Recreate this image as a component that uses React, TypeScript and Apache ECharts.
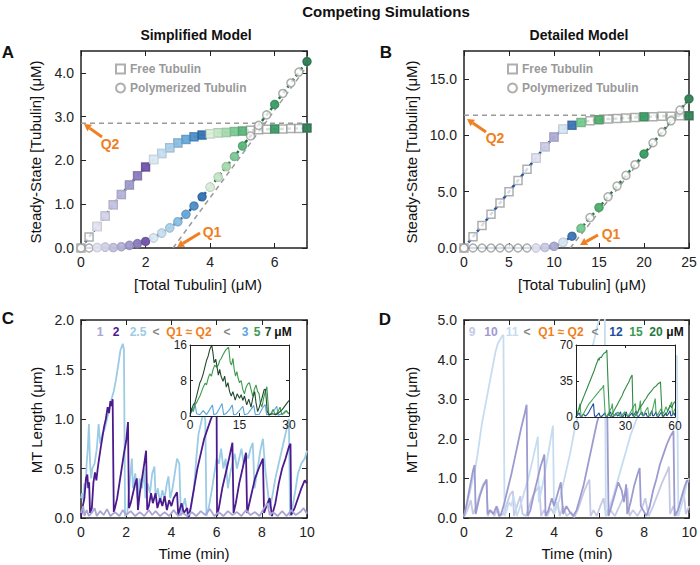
import React, { useEffect, useRef } from "react";
import * as echarts from "echarts";

// ---------------- DATA ----------------
// Panel A (simplified model) steady state
const totalA = [0, 0.25, 0.5, 0.75, 1, 1.25, 1.5, 1.75, 2, 2.25, 2.5, 2.75, 3, 3.25, 3.5, 3.75, 4, 4.25, 4.5, 4.75, 5, 5.25, 5.5, 5.75, 6, 6.25, 6.5, 6.75, 7];
const freeA = [0, 0.25, 0.49, 0.73, 0.99, 1.22, 1.44, 1.65, 1.85, 2.02, 2.16, 2.29, 2.4, 2.48, 2.54, 2.58, 2.61, 2.63, 2.64, 2.66, 2.67, 2.69, 2.7, 2.71, 2.72, 2.72, 2.73, 2.73, 2.74];
const polyA = [0, 0, 0.01, 0.02, 0.01, 0.03, 0.06, 0.1, 0.15, 0.23, 0.34, 0.46, 0.6, 0.77, 0.96, 1.17, 1.39, 1.62, 1.86, 2.09, 2.33, 2.56, 2.8, 3.04, 3.28, 3.53, 3.77, 4.02, 4.26];
const simXA = [0.5, 0.75, 1, 1.25, 1.5, 1.75, 2, 2.25, 2.5, 2.75, 3, 3.25, 3.5, 3.75, 4, 4.25, 4.5, 4.75, 5, 6, 7];
const simColorA = ["#dedff0", "#cccbe6", "#b9b7dc", "#a8a5d2", "#9088c4", "#7864b2", "#58359c", "#d5e6f5", "#badaf0", "#9ccae8", "#74b3de", "#4b98d2", "#2a7abf", "#0e5aa4", "#d5edd5", "#b9e2bc", "#96d39f", "#68be84", "#3fa864", "#178a4a", "#0a6736"];
const qA = 2.85;
const splitA = 4;

// Panel B (detailed model) steady state
const totalB = [0, 1, 2, 3, 4, 5, 6, 7, 8, 9, 10, 11, 12, 13, 14, 15, 16, 17, 18, 19, 20, 21, 22, 23, 24, 25];
const freeB = [0, 1, 2, 3, 4, 5, 6, 7, 8, 9, 9.85, 10.55, 10.9, 11.15, 11.3, 11.4, 11.45, 11.5, 11.55, 11.6, 11.65, 11.65, 11.7, 11.7, 11.75, 11.75];
const polyB = [0, 0, 0, 0, 0, 0, 0, 0, 0, 0.05, 0.15, 0.5, 1.05, 1.75, 2.7, 3.6, 4.55, 5.5, 6.45, 7.4, 8.35, 9.35, 10.3, 11.3, 12.25, 13.25];
const simXB = [8, 9, 10, 11, 12, 13, 15, 20, 25];
const simColorB = ["#dcdcf0", "#c4c3e3", "#a09cd0", "#cfe2f3", "#1a5da8", "#5cc07c", "#2f9e54", "#188a48", "#0b6a37"];
const qB = 11.8;
const splitB = 12;

// Panel C (simplified model) MT length vs time (min)
const c25: number[][] = [[0,0.2],[0.05,0.25],[0.1,0.18],[0.15,0.35],[0.2,0.3],[0.25,0.55],[0.3,0.7],[0.35,0.95],[0.4,0.55],[0.45,0.4],[0.5,0.5],[0.6,0.55],[0.7,0.7],[0.78,0.95],[0.85,0.75],[0.95,0.85],[1.05,0.9],[1.15,1.0],[1.25,1.1],[1.35,1.2],[1.45,1.28],[1.55,1.4],[1.65,1.55],[1.75,1.7],[1.85,1.76],[1.9,1.7],[1.95,0.02],[2.05,0.05],[2.15,0.35],[2.25,0.6],[2.3,0.3],[2.4,0.45],[2.5,0.2],[2.6,0.4],[2.7,0.3],[2.8,0.5],[2.85,0.2],[2.95,0.35],[3.05,0.25],[3.15,0.45],[3.25,0.52],[3.3,0.2],[3.4,0.3],[3.5,0.15],[3.6,0.28],[3.7,0.2],[3.8,0.35],[3.87,0.42],[3.95,0.2],[4.05,0.3],[4.15,0.45],[4.25,0.6],[4.35,0.55],[4.42,0.02],[4.5,0.1],[4.6,0.2],[4.7,0.05],[4.78,0.0],[4.9,0.15],[5.0,0.3],[5.1,0.6],[5.2,0.85],[5.3,0.95],[5.4,1.05],[5.5,1.0],[5.55,0.02],[5.65,0.1],[5.8,0.3],[5.9,0.45],[6.0,0.6],[6.1,0.55],[6.2,0.7],[6.3,0.5],[6.4,0.6],[6.5,0.3],[6.6,0.45],[6.7,0.55],[6.8,0.65],[6.9,0.5],[7.0,0.6],[7.1,0.7],[7.2,0.55],[7.3,0.65],[7.4,0.6],[7.5,0.7],[7.6,0.76],[7.68,0.3],[7.75,0.4],[7.85,0.55],[7.95,0.7],[8.05,0.8],[8.15,0.5],[8.25,0.3],[8.35,0.1],[8.45,0.2],[8.6,0.4],[8.75,0.55],[8.9,0.7],[9.0,0.8],[9.1,0.9],[9.2,1.0],[9.25,0.02],[9.35,0.1],[9.5,0.3],[9.6,0.45],[9.75,0.55],[9.9,0.6],[10,0.68]];
const c2: number[][] = [[0,0.02],[0.08,0.12],[0.15,0.2],[0.22,0.4],[0.28,0.44],[0.32,0.3],[0.36,0.36],[0.4,0.05],[0.48,0.1],[0.55,0.36],[0.62,0.46],[0.68,0.38],[0.74,0.5],[0.8,0.6],[0.88,0.72],[0.95,0.82],[1.02,0.92],[1.1,1.0],[1.18,1.12],[1.24,1.06],[1.3,1.18],[1.36,1.13],[1.4,1.2],[1.45,0.06],[1.5,0.1],[1.6,0.2],[1.7,0.35],[1.8,0.5],[1.9,0.65],[2.0,0.78],[2.08,0.97],[2.12,0.1],[2.2,0.15],[2.3,0.25],[2.4,0.35],[2.47,0.4],[2.52,0.08],[2.6,0.25],[2.7,0.4],[2.8,0.55],[2.88,0.68],[2.93,0.08],[3.0,0.12],[3.1,0.25],[3.18,0.15],[3.3,0.25],[3.38,0.1],[3.5,0.2],[3.6,0.12],[3.7,0.22],[3.8,0.08],[3.9,0.18],[4.0,0.12],[4.1,0.2],[4.25,0.26],[4.3,0.03],[4.45,0.15],[4.55,0.05],[4.7,0.1],[4.76,0.0],[4.85,0.1],[5.0,0.3],[5.15,0.5],[5.3,0.65],[5.45,0.8],[5.6,0.9],[5.75,1.0],[5.9,1.08],[6.0,1.12],[6.02,0.02],[6.1,0.1],[6.25,0.3],[6.4,0.45],[6.55,0.6],[6.7,0.76],[6.75,0.05],[6.85,0.15],[7.0,0.35],[7.15,0.5],[7.3,0.66],[7.35,0.05],[7.5,0.2],[7.7,0.4],[7.9,0.52],[8.05,0.6],[8.1,0.05],[8.2,0.12],[8.35,0.2],[8.45,0.02],[8.6,0.15],[8.75,0.35],[8.9,0.5],[9.05,0.6],[9.2,0.72],[9.27,0.75],[9.3,0.03],[9.45,0.1],[9.6,0.2],[9.75,0.3],[9.9,0.38],[10,0.35]];
const c1: number[][] = [[0,0.05],[0.1,0.12],[0.15,0.02],[0.25,0.08],[0.35,0.02],[0.5,0.06],[0.6,0.1],[0.7,0.02],[0.85,0.07],[1.0,0.03],[1.15,0.09],[1.3,0.02],[1.5,0.06],[1.7,0.02],[1.85,0.08],[2.0,0.03],[2.2,0.07],[2.4,0.02],[2.6,0.06],[2.8,0.02],[3.0,0.08],[3.15,0.03],[3.3,0.07],[3.5,0.02],[3.7,0.06],[3.9,0.02],[4.1,0.08],[4.3,0.02],[4.5,0.05],[4.7,0.02],[4.9,0.06],[5.1,0.02],[5.3,0.07],[5.5,0.03],[5.7,0.09],[5.9,0.02],[6.1,0.06],[6.3,0.02],[6.5,0.07],[6.7,0.03],[6.9,0.06],[7.1,0.02],[7.3,0.08],[7.5,0.03],[7.7,0.06],[7.9,0.02],[8.1,0.1],[8.25,0.15],[8.35,0.03],[8.5,0.06],[8.7,0.02],[8.9,0.07],[9.1,0.02],[9.3,0.08],[9.5,0.03],[9.7,0.06],[9.85,0.1],[10,0.04]];

// Panel C inset (0-30 min)
const ci3: number[][] = [[0,0.5],[1,1.5],[1.5,2.8],[2,0.5],[3,0.3],[4,1.2],[5,0.3],[6,1.5],[6.8,2.5],[7.2,0.3],[8,0.5],[9,1.8],[9.7,2.8],[10.2,0.3],[11,0.6],[12,1.5],[12.8,2.5],[13.2,0.3],[14,0.4],[15,1.2],[16,2.2],[16.5,0.3],[17.5,0.5],[18.5,1.5],[19.3,2.4],[19.8,0.3],[21,0.4],[22,1.8],[22.8,2.6],[23.2,0.3],[24.5,0.5],[25.5,1.3],[26.3,2.2],[26.7,0.2],[28,0.5],[29,1.2],[30,0.4]];
const ci5: number[][] = [[0,0.5],[0.5,1.8],[1,1],[1.5,2.5],[2,3],[2.5,3.8],[3,4.5],[3.5,5.5],[4,6.5],[4.6,7.4],[5,7],[5.5,8.5],[6,9.5],[6.5,9],[7,10.5],[7.5,11.5],[8,11],[8.6,11.5],[9,12.5],[9.5,13],[10,13.8],[10.5,14.5],[11,15],[11.7,15.5],[12.2,12],[12.6,11.5],[13,13],[13.4,10.5],[13.8,9],[14.2,10],[14.6,8.5],[15,7.5],[15.5,8],[16,6],[16.5,5],[17,6.5],[17.5,7.2],[18,7.5],[18.5,6],[19,4.5],[19.5,6],[20,7],[20.5,5.5],[20.9,5.1],[21.3,3],[21.8,2],[22.3,4],[22.8,5.5],[23.3,6.6],[23.9,0.2],[24.5,0.5],[25.2,1.5],[25.8,0.3],[26.5,0.8],[27.3,2],[27.8,0.3],[28.5,0.6],[29.2,1.2],[30,0.5]];
const ci7: number[][] = [[0,0],[0.5,1.5],[1,2.5],[1.5,3],[2,4.5],[2.5,6],[3,7.5],[3.5,8.3],[4,9.5],[4.5,11],[5,12.5],[5.5,13.5],[6,15],[6.6,16],[7,14],[7.3,12],[7.8,12.8],[8.2,11],[8.6,9.2],[9,10.5],[9.4,9],[10,7.8],[10.5,9],[11,6.5],[11.5,7.5],[12,5.5],[12.5,4.5],[13,5.5],[13.7,3.6],[14.3,5],[15,4],[15.5,4.8],[16,3.5],[16.5,4.5],[17.2,2.5],[17.8,3.8],[18.5,2],[19,4],[19.6,5.5],[20,3],[20.5,1],[21,2],[21.8,4],[22.5,6],[22.9,5.9],[23.4,1],[24,0.2],[25,0.5],[26,0.3],[27,0.8],[28,1.5],[29,2.5],[29.5,3],[30,3.5]];

// Panel D (detailed model) MT length vs time (min)
const d11: number[][] = [[0,0.05],[0.1,0.2],[0.2,0.5],[0.3,0.75],[0.4,1.0],[0.5,1.25],[0.6,1.6],[0.7,2.0],[0.8,2.4],[0.9,2.7],[1.0,3.0],[1.1,3.3],[1.2,3.6],[1.3,3.9],[1.4,4.2],[1.5,4.4],[1.6,4.5],[1.7,4.6],[1.75,4.62],[1.8,0.05],[1.9,0.2],[2.0,0.4],[2.1,0.3],[2.2,0.55],[2.35,0.05],[2.5,0.3],[2.7,0.7],[2.9,1.1],[3.1,1.6],[3.28,2.05],[3.32,0.4],[3.4,0.6],[3.55,1.0],[3.7,1.5],[3.85,2.0],[3.95,2.33],[4.0,0.1],[4.15,0.3],[4.3,0.6],[4.5,1.1],[4.7,1.6],[4.9,2.2],[5.1,2.7],[5.3,3.2],[5.5,3.8],[5.7,4.3],[5.9,4.8],[6.05,5.1],[6.25,5.4],[6.3,0.05],[6.4,0.2],[6.6,0.5],[6.8,0.9],[7.0,1.3],[7.2,1.7],[7.4,2.1],[7.6,2.4],[7.8,2.7],[7.95,2.8],[8.1,3.0],[8.3,3.3],[8.5,3.5],[8.7,3.7],[8.9,3.85],[9.1,3.95],[9.3,4.05],[9.45,4.1],[9.52,0.05],[9.6,0.2],[9.75,0.5],[9.9,0.9],[10,1.0]];
const d10: number[][] = [[0,0.05],[0.1,0.3],[0.2,0.6],[0.3,0.9],[0.4,1.2],[0.47,1.34],[0.52,0.1],[0.6,0.3],[0.7,0.55],[0.85,0.8],[1.0,0.97],[1.05,0.1],[1.15,0.2],[1.3,0.1],[1.45,0.3],[1.55,0.05],[1.65,0.1],[1.8,0.4],[1.95,0.75],[2.1,1.1],[2.25,1.5],[2.4,1.9],[2.55,2.3],[2.7,2.65],[2.78,2.86],[2.83,0.05],[2.95,0.2],[3.1,0.6],[3.25,0.95],[3.4,1.3],[3.57,1.6],[3.62,0.05],[3.75,0.2],[3.9,0.5],[4.0,0.3],[4.15,0.6],[4.3,0.9],[4.4,0.1],[4.55,0.3],[4.7,0.15],[4.85,0.05],[5.0,0.2],[5.15,0.5],[5.3,0.8],[5.45,1.2],[5.6,1.6],[5.75,2.0],[5.9,2.4],[6.05,2.7],[6.2,3.0],[6.35,3.2],[6.42,0.05],[6.55,0.3],[6.7,0.6],[6.85,0.9],[7.0,0.7],[7.1,0.4],[7.2,0.85],[7.25,0.1],[7.4,0.4],[7.55,0.8],[7.7,1.1],[7.8,1.26],[7.85,0.3],[7.95,0.2],[8.1,0.05],[8.25,0.3],[8.4,0.7],[8.55,1.0],[8.7,1.35],[8.85,1.6],[9.0,1.85],[9.15,2.05],[9.3,2.2],[9.35,0.05],[9.5,0.2],[9.65,0.5],[9.8,0.8],[9.9,0.95],[10,0.9]];
const d9: number[][] = [[0,0.02],[0.15,0.2],[0.3,0.45],[0.4,0.1],[0.55,0.3],[0.7,0.6],[0.85,0.85],[1.0,0.97],[1.05,0.05],[1.2,0.2],[1.35,0.05],[1.5,0.25],[1.6,0.05],[1.75,0.1],[1.9,0.35],[2.05,0.6],[2.17,0.68],[2.22,0.05],[2.35,0.3],[2.5,0.55],[2.6,0.1],[2.75,0.05],[2.9,0.3],[3.05,0.55],[3.2,0.7],[3.35,0.8],[3.42,0.05],[3.55,0.2],[3.7,0.05],[3.85,0.25],[4.0,0.1],[4.15,0.4],[4.25,0.05],[4.4,0.3],[4.55,0.05],[4.75,0.15],[4.9,0.02],[5.05,0.2],[5.2,0.45],[5.35,0.7],[5.5,0.9],[5.57,0.97],[5.62,0.05],[5.75,0.2],[5.9,0.05],[6.05,0.3],[6.2,0.5],[6.3,0.05],[6.5,0.2],[6.7,0.05],[6.9,0.3],[7.1,0.55],[7.25,0.75],[7.35,0.05],[7.5,0.2],[7.7,0.05],[7.9,0.25],[8.05,0.5],[8.2,0.05],[8.4,0.3],[8.6,0.6],[8.8,0.9],[9.0,1.15],[9.1,1.3],[9.15,0.1],[9.3,0.3],[9.45,0.05],[9.6,0.4],[9.75,0.7],[9.85,0.1],[10,0.3]];

// Panel D inset (0-60 min)
const di12: number[][] = [[0,0],[1,2],[2,4],[2.5,1],[3.5,0.5],[4.5,3],[5.5,1],[6.5,2],[7.5,4],[8.5,7],[9.5,10],[10.6,13],[11.2,1],[12,0.5],[13,2],[14,4],[14.5,1],[15.5,0.5],[16.5,2],[17.5,4],[18,1],[19,0.5],[20,3],[21,5],[21.5,1],[22.5,0.5],[23.5,2],[24.5,4],[25,1],[26,2],[27,5],[27.5,1],[28.5,0.5],[29.5,3],[30.5,5],[31,1],[32,0.5],[33,2],[34,4],[34.5,1],[35.5,3],[36.5,6],[37,1],[38,0.5],[39,3],[40,5],[40.5,1],[41.5,2],[42.5,4],[43,1],[44,0.5],[45,3],[46,6],[46.5,1],[47.5,2],[48.5,5],[49,1],[50,0.5],[51,3],[52,5],[52.5,1],[53.5,2],[54.5,4],[55,1],[56,3],[57,6],[57.5,1],[58.5,2],[59.5,4],[60,1]];
const di15: number[][] = [[0,0],[1,5],[2,10],[2.4,13],[3,2],[3.5,0.5],[4.5,3],[5.5,6],[6.5,9],[7.5,12],[8.5,14],[9.5,16],[10.5,18],[11.5,20],[12.5,22],[13.5,24],[14.5,26],[15.6,27.7],[16.2,29],[16.7,31],[17.7,1],[18.5,0.5],[19.5,3],[20.5,6],[21.5,9],[22,13],[22.5,3],[23.5,1],[24.5,3],[25.5,5],[26.5,1],[27.5,0.5],[28.5,3],[29.5,5],[30.5,2],[31.5,1],[32.5,3],[33.5,6],[34.5,9],[35.5,12],[36,13],[36.5,2],[37.5,4],[38.5,10],[39,16],[39.5,3],[40.5,1],[41.5,4],[42.5,7],[43.5,9.5],[44,3],[45,1],[46,5],[47,11],[48,18],[48.5,4],[49.5,2],[50.5,5],[51.5,8],[52.5,3],[53.5,5],[54.5,10],[55.5,6],[56.5,9],[57.5,13],[58,14.7],[58.5,3],[59.5,6],[60,8]];
const di20: number[][] = [[0,0],[1,4],[2,8],[3,13],[4,17],[5,21],[6,25],[7,29],[8,33],[9,37],[10,41],[11,45],[12,50],[13,54],[13.6,57],[14,55],[14.5,58],[15.5,58],[16,60],[17,62],[18,63],[18.7,65],[19.5,30],[20.3,1.5],[21,0.5],[22,3],[23,6],[24,9],[25,12],[26,15],[27,18],[28,21],[29,25],[30,28],[31,31],[32,34],[33,38],[34,40.7],[34.6,1],[35.5,0.5],[36.5,3],[37.5,5],[38.5,8],[39.5,11],[40.5,13],[41.5,16],[42.5,18],[43.5,21],[44.5,23],[45.5,25],[46.5,27],[47.5,29],[48.5,30],[49.5,32],[50.5,33],[51.2,34.2],[52.2,1],[53,0.5],[54,2],[55,4],[56,7],[57,11.4],[58,9],[59,13],[60,15]];

// ---------------- STYLE ----------------
const FONT = "'Liberation Sans', Arial, Helvetica, sans-serif";
const ORANGE = "#f07f21";
const DARK_BLUE = "#1a55a0";
const DARK_GREEN = "#1f7a42";

function mkAxis(grid: number, pos: string, min: number, max: number, interval: number, fontSize: number, labels: boolean, digits: number, inset: boolean) {
  const fits = Math.abs(max / interval - Math.round(max / interval)) < 1e-9;
  return {
    type: "value",
    gridIndex: grid,
    position: pos,
    min,
    max,
    interval,
    z: inset ? 12 : 0,
    axisLine: { show: true, onZero: false, lineStyle: { color: "#222", width: inset ? 1 : 1.5 } },
    axisTick: { show: true, inside: true, length: inset ? 3 : 5, lineStyle: { color: "#222", width: 1 } },
    axisLabel: {
      show: labels,
      fontSize,
      color: "#222",
      fontFamily: FONT,
      margin: inset ? 3 : 7,
      showMaxLabel: fits ? undefined : false,
      formatter: (v: number) => v.toFixed(digits),
    },
    splitLine: { show: false },
  };
}

type AxisSpec = { g: number; x: number[]; y: number[]; fs: number; dx: number; dy: number; inset: boolean };
const axisSpecs: AxisSpec[] = [
  { g: 0, x: [0, 7, 2], y: [0, 4.5, 1], fs: 14, dx: 0, dy: 1, inset: false },
  { g: 1, x: [0, 25, 5], y: [0, 17.5, 5], fs: 14, dx: 0, dy: 1, inset: false },
  { g: 2, x: [0, 10, 2], y: [0, 2, 0.5], fs: 14, dx: 0, dy: 1, inset: false },
  { g: 3, x: [0, 10, 2], y: [0, 5, 1], fs: 14, dx: 0, dy: 1, inset: false },
  { g: 4, x: [0, 30, 15], y: [0, 16, 8], fs: 12, dx: 0, dy: 0, inset: true },
  { g: 5, x: [0, 60, 30], y: [0, 70, 35], fs: 12, dx: 0, dy: 0, inset: true },
];

const xAxes: any[] = [];
const yAxes: any[] = [];
axisSpecs.forEach((s) => {
  xAxes.push(mkAxis(s.g, "bottom", s.x[0], s.x[1], s.x[2], s.fs, true, s.dx, s.inset));
  xAxes.push(mkAxis(s.g, "top", s.x[0], s.x[1], s.x[2], s.fs, false, s.dx, s.inset));
  yAxes.push(mkAxis(s.g, "left", s.y[0], s.y[1], s.y[2], s.fs, true, s.dy, s.inset));
  yAxes.push(mkAxis(s.g, "right", s.y[0], s.y[1], s.y[2], s.fs, false, s.dy, s.inset));
});

function pairs(xs: number[], ys: number[], pred: (x: number) => boolean) {
  const out: number[][] = [];
  xs.forEach((x, i) => {
    if (pred(x)) out.push([x, ys[i]]);
  });
  return out;
}

function steadySeries(g: number, total: number[], free: number[], poly: number[], simX: number[], simColor: string[], q: number, split: number, xmax: number) {
  const ax = { xAxisIndex: 2 * g, yAxisIndex: 2 * g };
  const dashed = (data: number[][], color: string, z: number) => ({
    type: "line",
    ...ax,
    data,
    showSymbol: false,
    silent: true,
    z,
    lineStyle: { color, width: 2.5, type: [4, 3] },
  });
  const openStyle = { color: "#fff", borderColor: "#9a9a9a", borderWidth: 1.5 };
  const sim = (ys: number[]) =>
    simX.map((x, i) => ({ value: [x, ys[total.indexOf(x)]], itemStyle: { color: simColor[i] } }));
  return [
    { type: "line", ...ax, data: [[0, q], [xmax, q]], showSymbol: false, silent: true, z: 1, lineStyle: { color: "#9a9a9a", width: 1.5, type: [5, 4] } },
    { type: "line", ...ax, data: [[q, 0], [xmax, xmax - q]], showSymbol: false, silent: true, z: 1, lineStyle: { color: "#9a9a9a", width: 1.5, type: [5, 4] } },
    dashed(pairs(total, free, (x) => x <= split), DARK_BLUE, 2),
    dashed(pairs(total, free, (x) => x >= split), DARK_GREEN, 2),
    dashed(pairs(total, poly, (x) => x <= split), DARK_BLUE, 2),
    dashed(pairs(total, poly, (x) => x >= split), DARK_GREEN, 2),
    { type: "scatter", name: "Free Tubulin", ...ax, data: pairs(total, free, () => true), symbol: "rect", symbolSize: 8, itemStyle: openStyle, z: 3 },
    { type: "scatter", name: "Polymerized Tubulin", ...ax, data: pairs(total, poly, () => true), symbol: "circle", symbolSize: 8, itemStyle: openStyle, z: 3 },
    { type: "scatter", ...ax, data: sim(free), symbol: "rect", symbolSize: 9, z: 4 },
    { type: "scatter", ...ax, data: sim(poly), symbol: "circle", symbolSize: 9, z: 4 },
  ];
}

function trace(g: number, data: number[][], color: string, width: number, inset: boolean) {
  return {
    type: "line",
    xAxisIndex: 2 * g,
    yAxisIndex: 2 * g,
    data,
    showSymbol: false,
    silent: true,
    z: inset ? 11 : 2,
    lineStyle: { color, width },
  };
}

function txt(text: string, x: number, y: number, size: number, opts: any = {}) {
  return {
    type: "text",
    x,
    y,
    rotation: opts.rot || 0,
    z: 20,
    style: {
      text,
      fill: opts.color || "#111",
      font: `${opts.bold ? "bold " : ""}${size}px ${FONT}`,
      align: "center",
      verticalAlign: "middle",
    },
  };
}

function arrow(tx: number, ty: number, hx: number, hy: number) {
  const dx = hx - tx;
  const dy = hy - ty;
  const len = Math.sqrt(dx * dx + dy * dy);
  const ux = dx / len;
  const uy = dy / len;
  const bx = hx - 7 * ux;
  const by = hy - 7 * uy;
  const px = -uy * 4;
  const py = ux * 4;
  return [
    { type: "line", z: 20, shape: { x1: tx, y1: ty, x2: bx, y2: by }, style: { stroke: ORANGE, lineWidth: 3 } },
    { type: "polygon", z: 20, shape: { points: [[hx, hy], [bx + px, by + py], [bx - px, by - py]] }, style: { fill: ORANGE } },
  ];
}

export default function App() {
  const ref = useRef<HTMLDivElement>(null);
  useEffect(() => {
    if (!ref.current) return;
    const chart = echarts.init(ref.current, null, { renderer: "svg" });
    const legendBase = {
      orient: "vertical",
      top: 58,
      itemWidth: 9,
      itemHeight: 9,
      itemGap: 7,
      selectedMode: false,
      data: ["Free Tubulin", "Polymerized Tubulin"],
      textStyle: { color: "#999", fontWeight: "bold", fontSize: 12, fontFamily: FONT },
    };
    const B = { bold: true };
    const lg = (t: string, x: number, color: string) => txt(t, x, 332, 12, { bold: true, color });
    const grids = [
      { left: 81, top: 51, width: 226, height: 197 },
      { left: 464, top: 51, width: 225, height: 197 },
      { left: 81, top: 320, width: 226, height: 198 },
      { left: 464, top: 320, width: 226, height: 198 },
      { left: 190, top: 345, width: 99, height: 71 },
      { left: 576, top: 345, width: 99, height: 72 },
    ];
    const insetBg = (gi: number) => ({
      type: "rect",
      z: 8,
      silent: true,
      shape: { x: grids[gi].left, y: grids[gi].top, width: grids[gi].width, height: grids[gi].height },
      style: { fill: "#fff" },
    });
    const option: any = {
      animation: false,
      backgroundColor: "#fff",
      grid: grids,
      xAxis: xAxes,
      yAxis: yAxes,
      legend: [
        { ...legendBase, left: 110 },
        { ...legendBase, left: 502 },
      ],
      series: [
        ...steadySeries(0, totalA, freeA, polyA, simXA, simColorA, qA, splitA, 7),
        ...steadySeries(1, totalB, freeB, polyB, simXB, simColorB, qB, splitB, 25),
        trace(2, c25, "#9ccbe6", 1.8, false),
        trace(2, c2, "#4b1b8e", 1.8, false),
        trace(2, c1, "#a9a6d4", 1.8, false),
        trace(3, d9, "#c5c9e6", 1.8, false),
        trace(3, d11, "#c6dcf0", 1.8, false),
        trace(3, d10, "#9d9ad0", 1.8, false),
        trace(4, ci3, "#5aa5da", 1.1, true),
        trace(4, ci5, "#3d9a4e", 1.1, true),
        trace(4, ci7, "#234a2e", 1.1, true),
        trace(5, di12, "#1f4e9c", 1.1, true),
        trace(5, di15, "#4aa85a", 1.1, true),
        trace(5, di20, "#2e8a44", 1.1, true),
      ],
      graphic: [
        insetBg(4),
        insetBg(5),
        txt("Competing Simulations", 386, 11, 15, B),
        txt("Simplified Model", 196, 35, 14, B),
        txt("Detailed Model", 579, 35, 14, B),
        txt("A", 8, 52, 17, B),
        txt("B", 386, 52, 17, B),
        txt("C", 8, 318, 17, B),
        txt("D", 385, 319, 17, B),
        txt("[Total Tubulin] (μM)", 198, 284, 15),
        txt("[Total Tubulin] (μM)", 582, 284, 15),
        txt("Time (min)", 194, 553, 15),
        txt("Time (min)", 577, 553, 15),
        txt("Steady-State [Tubulin] (μM)", 35, 152, 15, { rot: Math.PI / 2 }),
        txt("Steady-State [Tubulin] (μM)", 411, 152, 15, { rot: Math.PI / 2 }),
        txt("MT Length (μm)", 36, 420, 15, { rot: Math.PI / 2 }),
        txt("MT Length (μm)", 411, 420, 15, { rot: Math.PI / 2 }),
        ...arrow(102, 137, 84, 124),
        ...arrow(200, 233, 177, 247),
        ...arrow(486, 132, 467, 119),
        ...arrow(598, 235, 580, 245),
        txt("Q2", 110, 144, 14, { bold: true, color: ORANGE }),
        txt("Q1", 212, 232, 14, { bold: true, color: ORANGE }),
        txt("Q2", 495, 138, 14, { bold: true, color: ORANGE }),
        txt("Q1", 611, 234, 14, { bold: true, color: ORANGE }),
        lg("1", 100, "#a9a6d4"),
        lg("2", 116, "#4b1b8e"),
        lg("2.5", 138, "#9ccbe6"),
        lg("<", 156, "#888"),
        lg("Q1 ≈ Q2", 189, ORANGE),
        lg("<", 227, "#888"),
        lg("3", 245, "#5aa5da"),
        lg("5", 257, "#3d9a4e"),
        lg("7", 268, "#234a2e"),
        lg("μM", 283, "#111"),
        lg("9", 472, "#c5c9e6"),
        lg("10", 491, "#9d9ad0"),
        lg("11", 512, "#c6dcf0"),
        lg("<", 527, "#888"),
        lg("Q1 ≈ Q2", 561, ORANGE),
        lg("<", 595, "#888"),
        lg("12", 616, "#1f4e9c"),
        lg("15", 636, "#3d9a4e"),
        lg("20", 656, "#1f7a42"),
        lg("μM", 675, "#111"),
      ],
    };
    chart.setOption(option);
    return () => chart.dispose();
  }, []);
  return <div ref={ref} style={{ position: "absolute", left: 0, top: 0, width: 700, height: 565 }} />;
}
